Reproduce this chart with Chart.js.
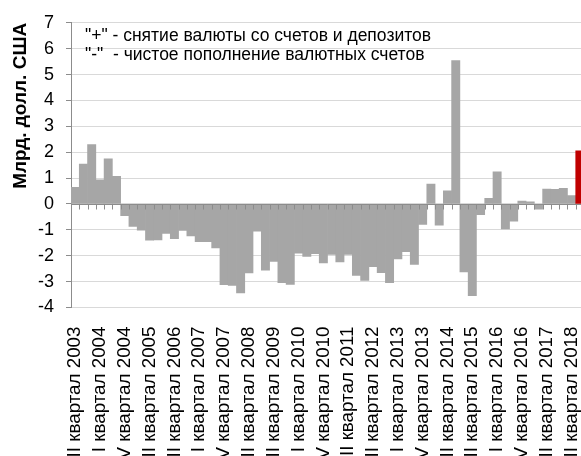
<!DOCTYPE html>
<html lang="ru">
<head>
<meta charset="utf-8">
<script src="https://cdn.jsdelivr.net/npm/chart.js@4"></script>
<style>
  html, body { margin: 0; padding: 0; background: #fff; overflow: hidden; }
  #wrap { width: 587px; height: 456px; }
</style>
</head>
<body>
<div id="wrap"><canvas id="flows"></canvas></div>
<script>
// Net currency flows of households by quarter, II 2003 .. III 2018
const quarters = [
  'II квартал 2003', 'III квартал 2003', 'IV квартал 2003',
  'I квартал 2004', 'II квартал 2004', 'III квартал 2004', 'IV квартал 2004',
  'I квартал 2005', 'II квартал 2005', 'III квартал 2005', 'IV квартал 2005',
  'I квартал 2006', 'II квартал 2006', 'III квартал 2006', 'IV квартал 2006',
  'I квартал 2007', 'II квартал 2007', 'III квартал 2007', 'IV квартал 2007',
  'I квартал 2008', 'II квартал 2008', 'III квартал 2008', 'IV квартал 2008',
  'I квартал 2009', 'II квартал 2009', 'III квартал 2009', 'IV квартал 2009',
  'I квартал 2010', 'II квартал 2010', 'III квартал 2010', 'IV квартал 2010',
  'I квартал 2011', 'II квартал 2011', 'III квартал 2011', 'IV квартал 2011',
  'I квартал 2012', 'II квартал 2012', 'III квартал 2012', 'IV квартал 2012',
  'I квартал 2013', 'II квартал 2013', 'III квартал 2013', 'IV квартал 2013',
  'I квартал 2014', 'II квартал 2014', 'III квартал 2014', 'IV квартал 2014',
  'I квартал 2015', 'II квартал 2015', 'III квартал 2015', 'IV квартал 2015',
  'I квартал 2016', 'II квартал 2016', 'III квартал 2016', 'IV квартал 2016',
  'I квартал 2017', 'II квартал 2017', 'III квартал 2017', 'IV квартал 2017',
  'I квартал 2018', 'II квартал 2018', 'III квартал 2018'
]
const flows = [
  0.64, 1.54, 2.29, 0.93, 1.74, 1.07, -0.45, -0.87, -1.01, -1.40,
  -1.39, -1.14, -1.34, -1.02, -1.23, -1.46, -1.46, -1.70, -3.12, -3.15,
  -3.44, -2.66, -1.05, -2.56, -2.22, -3.04, -3.11, -1.90, -2.03, -1.92,
  -2.28, -1.95, -2.24, -1.95, -2.76, -2.95, -2.42, -2.65, -3.04, -2.12,
  -1.84, -2.34, -0.79, 0.77, -0.82, 0.51, 5.54, -2.63, -3.54, -0.41,
  0.22, 1.24, -0.96, -0.66, 0.11, 0.08, -0.20, 0.58, 0.57, 0.60,
  0.32, 2.05
]
const labelStep = 3
const yTicks = [-4, -3, -2, -1, 0, 1, 2, 3, 4, 5, 6, 7]
const notes = ['"+" - снятие валюты со счетов и депозитов', '"-"  - чистое пополнение валютных счетов']

const GREY = '#a6a6a6'
const RED = '#c00000'
const FONT = "'Liberation Sans', Arial, sans-serif"

// zero axis with its small tick marks between quarters, plus the legend note
const zeroAxis = {
  id: 'zeroAxis',
  afterDatasetsDraw(chart) {
    const { ctx, chartArea, scales: { x, y } } = chart
    const y0 = Math.round(y.getPixelForValue(0)) + 0.5
    const half = (x.getPixelForValue(1) - x.getPixelForValue(0)) / 2
    ctx.save()
    ctx.strokeStyle = '#8c8c8c'
    ctx.lineWidth = 1
    ctx.beginPath()
    ctx.moveTo(chartArea.left, y0)
    ctx.lineTo(chartArea.right, y0)
    for (let i = 1; i < quarters.length; i++) {
      const px = Math.round(x.getPixelForValue(i) - half) + 0.5
      ctx.moveTo(px, y0)
      ctx.lineTo(px, y0 + 5)
    }
    ctx.stroke()
    ctx.restore()
  },
  afterDraw(chart) {
    const { ctx } = chart
    ctx.save()
    ctx.fillStyle = '#000'
    ctx.font = '17.5px ' + FONT
    ctx.textBaseline = 'middle'
    notes.forEach((t, i) => ctx.fillText(t, 85, 36 + i * 19))
    ctx.restore()
  }
}

new Chart(document.getElementById('flows'), {
  type: 'bar',
  data: {
    labels: quarters,
    datasets: [{
      data: flows,
      backgroundColor: flows.map((v, i) => i === flows.length - 1 ? RED : GREY),
      borderWidth: 0,
      barPercentage: 1,
      categoryPercentage: 1
    }]
  },
  options: {
    responsive: true,
    maintainAspectRatio: false,
    animation: false,
    layout: { padding: { top: 20, right: 3, left: 0, bottom: 0 } },
    plugins: { legend: { display: false }, tooltip: { enabled: false } },
    scales: {
      x: {
        grid: { display: false },
        border: { display: false },
        afterFit: (s) => { s.height = 148.5; s.paddingLeft = 0; s.paddingRight = 0 },
        ticks: {
          autoSkip: false,
          minRotation: 90,
          maxRotation: 90,
          padding: 11,
          color: '#000',
          font: { family: FONT, size: 18.8 },
          callback: (v, i) => i % labelStep === 0 ? quarters[i] : ''
        }
      },
      y: {
        min: yTicks[0],
        max: yTicks[yTicks.length - 1],
        afterFit: (s) => { s.width = 71 },
        afterBuildTicks: (s) => { s.ticks = yTicks.map((v) => ({ value: v })) },
        grid: { color: '#d9d9d9', tickColor: '#8c8c8c', tickLength: 5 },
        border: { color: '#8c8c8c' },
        ticks: { padding: 12, color: '#000', font: { family: FONT, size: 18 } },
        title: {
          display: true,
          text: 'Млрд. долл. США',
          align: 'end',
          color: '#000',
          padding: { top: 9 },
          font: { family: FONT, size: 19, weight: 'bold' }
        }
      }
    }
  },
  plugins: [zeroAxis]
})
</script>
</body>
</html>
